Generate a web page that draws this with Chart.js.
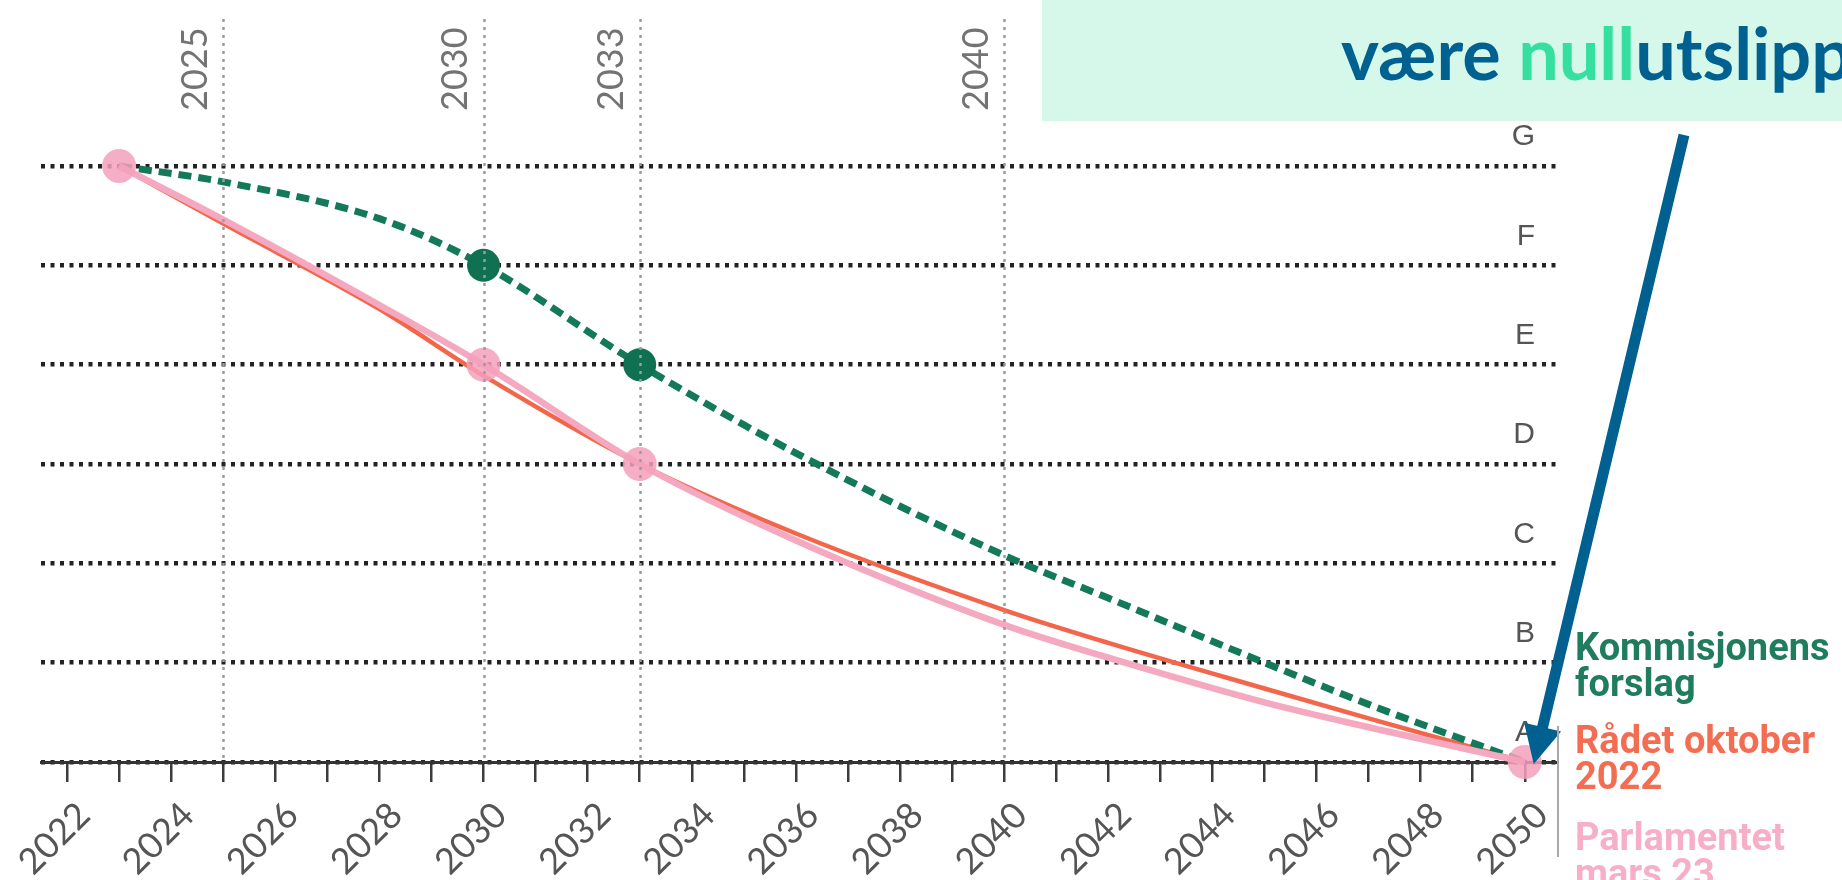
<!DOCTYPE html>
<html>
<head>
<meta charset="utf-8">
<script src="https://cdn.jsdelivr.net/npm/chart.js@4.4.1/dist/chart.umd.min.js"></script>
<style>
  html, body { margin: 0; padding: 0; background: #ffffff; }
  #wrap { position: relative; width: 1842px; height: 880px; }
</style>
</head>
<body>
<div id="wrap"><canvas id="c" width="1842" height="880"></canvas></div>
<script>
// ---------- DATA ----------
const years = [2023, 2025, 2028, 2030, 2033, 2036, 2040, 2042, 2045, 2047, 2050];
const kommisjonen = [6, 5.84, 5.47, 5, 4, 3.11, 2.08, 1.65, 1.0, 0.58, 0];
const raadet      = [6, 5.42, 4.56, 3.89, 3.0, 2.3, 1.53, 1.2, 0.74, 0.44, 0];
const parlamentet = [6, 5.46, 4.6, 4, 3, 2.23, 1.38, 1.05, 0.6, 0.35, 0];
const kommisjonenMarks = [2030, 2033];
const parlamentetMarks = [2023, 2030, 2033, 2050];
const seriesNames = ['Kommisjonens\nforslag', 'Rådet oktober\n2022', 'Parlamentet\nmars 23'];
const axisYears = [2022,2023,2024,2025,2026,2027,2028,2029,2030,2031,2032,2033,2034,2035,2036,2037,2038,2039,2040,2041,2042,2043,2044,2045,2046,2047,2048,2049,2050];
const classLetters = ['A', 'B', 'C', 'D', 'E', 'F', 'G'];
const classValues = [0, 1, 2, 3, 4, 5, 6];
const markerYears = [2025, 2030, 2033, 2040];
const headline = [['være ', 'blue'], ['null', 'green'], ['utslipp', 'blue']];

// ---------- STYLE ----------
const GREEN = '#13795a', ORANGE = '#f2674b', PINK = '#f5a9c1';
const pts = (vals) => years.map((x, i) => ({ x, y: vals[i] }));
const radii = (marks, r) => years.map(y => marks.includes(y) ? r : 0);

const overlay = {
  id: 'overlay',
  afterDraw(chart) {
    const { ctx, chartArea, scales: { x, y } } = chart;
    const y0 = y.getPixelForValue(0);
    ctx.save();
    // vertical marker lines
    ctx.strokeStyle = '#9c9c9c';
    ctx.lineWidth = 2.5;
    ctx.setLineDash([3, 5]);
    markerYears.forEach(yr => {
      const px = Math.round(x.getPixelForValue(yr)) + 0.5;
      ctx.beginPath();
      ctx.moveTo(px, chartArea.top + 2);
      ctx.lineTo(px, y0);
      ctx.stroke();
    });
    ctx.setLineDash([]);
    ctx.fillStyle = '#737373';
    ctx.font = '36px Lato';
    markerYears.forEach(yr => {
      const px = x.getPixelForValue(yr);
      ctx.save();
      ctx.translate(px - 28, 111);
      ctx.rotate(-Math.PI / 2);
      ctx.textAlign = 'left';
      ctx.textBaseline = 'middle';
      ctx.fillText(String(yr), 0, 0);
      ctx.restore();
    });

    // headline box
    ctx.fillStyle = '#d6f8eb';
    ctx.fillRect(1042, 0, 800, 121);
    ctx.font = 'bold 72px Lato';
    ctx.textBaseline = 'alphabetic';
    ctx.textAlign = 'left';
    let hx = 1341;
    headline.forEach(([t, c]) => {
      ctx.fillStyle = c === 'green' ? '#34df9f' : '#00608f';
      ctx.fillText(t, hx, 80);
      hx += ctx.measureText(t).width;
    });

    // arrow
    const tip = { x: x.getPixelForValue(2050) + 9, y: y0 + 2 };
    const start = { x: 1684, y: 135 };
    const dx = tip.x - start.x, dy = tip.y - start.y;
    const len = Math.hypot(dx, dy);
    const ux = dx / len, uy = dy / len, nx = -uy, ny = ux;
    const hl = 38, hw = 19;
    const bx = tip.x - ux * hl, by = tip.y - uy * hl;
    ctx.strokeStyle = '#00608f';
    ctx.fillStyle = '#00608f';
    ctx.lineWidth = 11;
    ctx.lineCap = 'butt';
    ctx.beginPath();
    ctx.moveTo(start.x, start.y);
    ctx.lineTo(bx + ux * 4, by + uy * 4);
    ctx.stroke();
    ctx.beginPath();
    ctx.moveTo(tip.x, tip.y);
    ctx.lineTo(bx + nx * hw, by + ny * hw);
    ctx.lineTo(bx - nx * hw, by - ny * hw);
    ctx.closePath();
    ctx.fill();

    // bracket line
    ctx.strokeStyle = '#a8a8a8';
    ctx.lineWidth = 2;
    ctx.beginPath();
    ctx.moveTo(1558, 726);
    ctx.lineTo(1558, 857);
    ctx.stroke();

    // series labels
    const labelCols = ['#1f7d5e', '#f36d52', '#f6afc7'];
    const labelBase = [660, 753, 850];
    ctx.font = 'bold 38px Roboto';
    seriesNames.forEach((nm, i) => {
      ctx.fillStyle = labelCols[i];
      nm.split('\n').forEach((ln, j) => ctx.fillText(ln, 1575, labelBase[i] + j * 36));
    });
    ctx.restore();
  }
};

new Chart(document.getElementById('c'), {
  type: 'line',
  data: {
    datasets: [
      {
        label: seriesNames[2],
        data: pts(parlamentet),
        borderColor: PINK,
        borderWidth: 6.5,
        pointRadius: radii(parlamentetMarks, 17),
        pointBackgroundColor: 'rgba(243,160,187,0.85)',
        pointBorderWidth: 0,
        cubicInterpolationMode: 'monotone',
        clip: false
      },
      {
        label: seriesNames[0],
        data: pts(kommisjonen),
        borderColor: GREEN,
        borderWidth: 7,
        borderDash: [13, 7],
        pointRadius: radii(kommisjonenMarks, 16.5),
        pointBackgroundColor: '#0f7152',
        pointBorderWidth: 0,
        cubicInterpolationMode: 'monotone',
        clip: false
      },
      {
        label: seriesNames[1],
        data: pts(raadet),
        borderColor: ORANGE,
        borderWidth: 4.5,
        pointRadius: 0,
        cubicInterpolationMode: 'monotone',
        clip: false
      }
    ]
  },
  options: {
    responsive: false,
    animation: false,
    devicePixelRatio: 1,
    layout: { padding: { left: 41, top: 11, right: 0, bottom: 0 } },
    plugins: { legend: { display: false }, tooltip: { enabled: false } },
    scales: {
      x: {
        type: 'linear',
        position: 'bottom',
        min: 2021.5,
        max: 2050.6,
        afterBuildTicks: s => { s.ticks = axisYears.map(v => ({ value: v })); },
        afterFit: s => { s.height = 118; s.paddingLeft = 0; s.paddingRight = 0; },
        ticks: {
          autoSkip: false,
          minRotation: 45,
          maxRotation: 45,
          padding: 12,
          labelOffset: 17,
          color: '#555',
          font: { family: 'Lato', size: 36 },
          callback: v => (v % 2 === 0 ? String(v) : '')
        },
        grid: { drawOnChartArea: false, drawTicks: true, tickLength: 20, color: '#3c3c3c', lineWidth: 2.5 },
        border: { display: true, color: '#333', width: 3 }
      },
      y: {
        type: 'linear',
        position: 'right',
        min: 0,
        max: 7.5,
        z: 1,
        afterBuildTicks: s => { s.ticks = classValues.map(v => ({ value: v })); },
        afterFit: s => { s.width = 286; s.paddingTop = 0; s.paddingBottom = 0; },
        ticks: {
          mirror: true,
          padding: -21,
          labelOffset: -29,
          color: '#555',
          font: { family: 'Liberation Sans', size: 30 },
          callback: v => classLetters[v]
        },
        grid: { color: '#222', lineWidth: 4.5, drawTicks: false },
        border: { display: false, dash: [4, 5.5] }
      }
    }
  },
  plugins: [overlay]
});
</script>
</body>
</html>
